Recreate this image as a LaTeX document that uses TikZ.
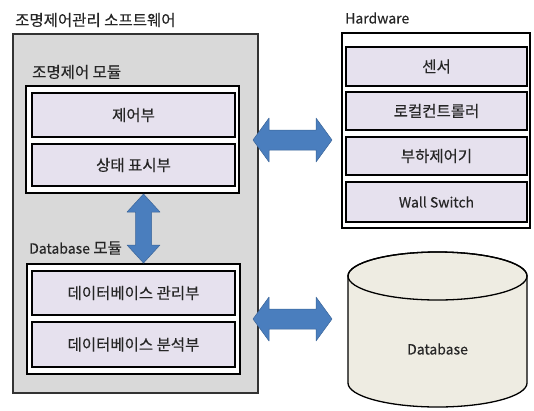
\documentclass[tikz,border=0pt]{standalone}
\usepackage{fontspec}
\setmainfont{Noto Sans CJK KR}[FakeBold=0.3]
\begin{document}
\begin{tikzpicture}[x=1pt,y=-1pt,
  panel/.style={draw=black!80, line width=1.4pt, fill=black!15},
  group/.style={draw=black, line width=1.3pt, fill=white},
  unit/.style={draw=black, line width=1.3pt, fill=unitfill, font=\fontsize{15.5}{17}\selectfont, text=black!85},
  latin/.style={font=\fontsize{14}{16}\selectfont},
  label/.style={anchor=west, font=\fontsize{15.5}{17}\selectfont, text=black!85, inner sep=0pt},
  link/.style={fill=linkblue, draw=linkblue!80!black, line width=0.5pt, line join=round}]
\definecolor{unitfill}{HTML}{E6E1EE}
\definecolor{linkblue}{HTML}{4A7EBE}
\definecolor{dbfill}{HTML}{EEECE2}
\useasboundingbox (0,0) rectangle (534,410);

% software side
\node[label] (swtitle) at (15,20) {조명제어관리 소프트웨어};
\draw[panel] (13,34) rectangle (258,393);

\node[label] (lmod) at (32,72) {조명제어 모듈};
\draw[group] (26,86) rectangle (239,193);
\node[unit, minimum width=203pt, minimum height=44pt] (ctrl) at (133.5,115) {제어부};
\node[unit, minimum width=203pt, minimum height=42pt] (stat) at (133.5,165) {상태 표시부};

\node[label] (dmod) at (29,248) {{\fontsize{14}{16}\selectfont Database} 모듈};
\draw[group] (27,264) rectangle (240,374);
\node[unit, minimum width=203pt, minimum height=44pt] (dbm) at (133.5,293) {데이터베이스 관리부};
\node[unit, minimum width=203pt, minimum height=45pt] (dba) at (133.5,344.5) {데이터베이스 분석부};

% hardware side
\node[label, latin] (hwtitle) at (345,18) {Hardware};
\draw[group] (342,33) rectangle (530,228);
\node[unit, minimum width=181pt, minimum height=39pt] (sensor) at (436.5,66.5) {센서};
\node[unit, minimum width=181pt, minimum height=38pt] (local) at (436.5,111) {로컬컨트롤러};
\node[unit, minimum width=181pt, minimum height=38pt] (load) at (436.5,156) {부하제어기};
\node[unit, latin, minimum width=181pt, minimum height=40pt] (wall) at (436.5,202) {Wall Switch};

% database cylinder
\path[fill=dbfill, draw=black, line width=1.3pt]
  (348,276) -- (348,383) arc[start angle=180, end angle=360, x radius=89.5pt, y radius=24pt]
  -- (527,276) arc[start angle=0, end angle=180, x radius=89.5pt, y radius=24pt] -- cycle;
\draw[line width=1.3pt] (437.5,276) ellipse[x radius=89.5pt, y radius=24pt];
\node[latin, text=black!85] (db) at (437.5,349) {Database};

% block double arrows between the parts
\draw[link] (253,140) -- (269,118) -- (269,130) -- (316,130) -- (316,118) -- (332,140)
  -- (316,162) -- (316,150) -- (269,150) -- (269,162) -- cycle;
\draw[link] (253,319) -- (269,297) -- (269,309) -- (316,309) -- (316,297) -- (332,319)
  -- (316,341) -- (316,329) -- (269,329) -- (269,341) -- cycle;
\draw[link] (143.5,194) -- (160,212) -- (151.5,212) -- (151.5,245) -- (160,245) -- (143.5,263)
  -- (127,245) -- (135.5,245) -- (135.5,212) -- (127,212) -- cycle;
\end{tikzpicture}
\end{document}
